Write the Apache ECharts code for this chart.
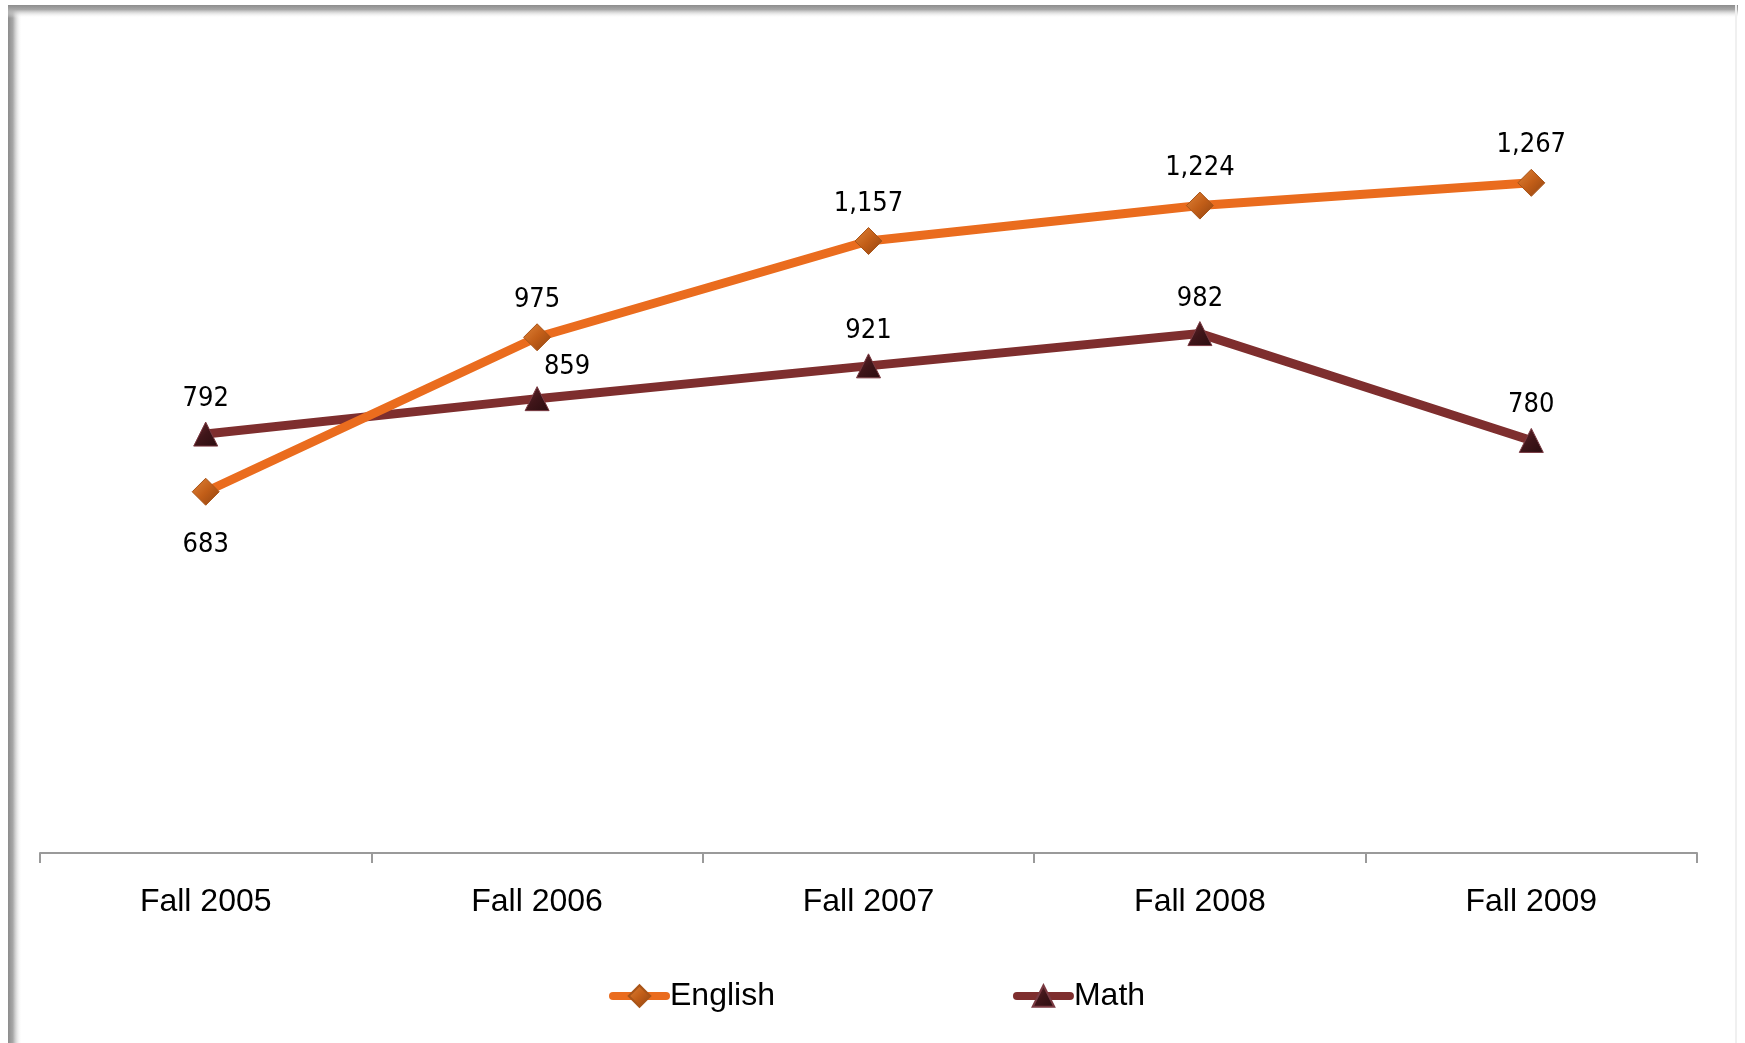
<!DOCTYPE html>
<html>
<head>
<meta charset="utf-8">
<script src="https://cdn.jsdelivr.net/npm/echarts@6/dist/echarts.min.js"></script>
<style>
html,body{margin:0;padding:0;background:#fff;}
#chart{width:1745px;height:1043px;}
</style>
</head>
<body>
<div id="chart"></div>
<script>
const categories = ['Fall 2005', 'Fall 2006', 'Fall 2007', 'Fall 2008', 'Fall 2009'];
const englishValues = [683, 975, 1157, 1224, 1267];
const mathValues = [792, 859, 921, 982, 780];

const chart = echarts.init(document.getElementById('chart'));
const labelFont = "'Liberation Sans Narrow', 'DejaVu Sans Condensed', sans-serif";
const axisFont = "'Liberation Sans', Arial, sans-serif";

const englishData = englishValues.map((v, i) => ({
  value: v,
  label: i === 0 ? { position: 'bottom', distance: 26 } : undefined
}));
const mathData = mathValues.map((v, i) => ({
  value: v,
  label: i === 1 ? { offset: [30, 3] } : undefined
}));

chart.setOption({
  animation: false,
  backgroundColor: '#fff',
  graphic: [
    { type: 'rect', left: 8, top: 5, shape: { width: 14, height: 1040 }, silent: true,
      style: { fill: new echarts.graphic.LinearGradient(0, 0, 1, 0, [
        { offset: 0, color: '#8c8c8c' }, { offset: 0.35, color: '#a8a8a8' }, { offset: 1, color: 'rgba(255,255,255,0)' }]) } },
    { type: 'rect', left: 8, top: 5, shape: { width: 1730, height: 13 }, silent: true,
      style: { fill: new echarts.graphic.LinearGradient(0, 0, 0, 1, [
        { offset: 0, color: '#8c8c8c' }, { offset: 0.35, color: '#a8a8a8' }, { offset: 1, color: 'rgba(255,255,255,0)' }]) } },
    { type: 'rect', left: 1735, top: 5, shape: { width: 2, height: 1040 }, silent: true,
      style: { fill: '#f0f0f0' } }
  ],
  grid: { left: 40, right: 48, top: 112.5, bottom: 190, containLabel: false },
  legend: {
    left: 604, top: 975,
    itemWidth: 53, itemHeight: 27, itemGap: 238,
    lineStyle: { width: 8, cap: 'round' },
    textStyle: { fontFamily: axisFont, fontSize: 32, color: '#000', padding: [0, 0, 0, -1] },
    data: ['English', 'Math']
  },
  xAxis: {
    type: 'category',
    data: categories,
    boundaryGap: true,
    axisLine: { lineStyle: { color: '#9a9a9a', width: 2 } },
    axisTick: { show: true, length: 10, inside: false, lineStyle: { color: '#9a9a9a', width: 2 } },
    axisLabel: { fontFamily: axisFont, fontSize: 32, color: '#000', margin: 33 }
  },
  yAxis: {
    type: 'value', min: 0, max: 1400, interval: 200,
    show: false, splitLine: { show: false }
  },
  series: [
    {
      name: 'English', type: 'line', data: englishData,
      symbol: 'diamond', symbolSize: 27,
      lineStyle: { color: '#EA6C1E', width: 9 },
      itemStyle: { color: new echarts.graphic.LinearGradient(0, 0, 1, 1, [
        { offset: 0, color: '#E0843A' }, { offset: 0.5, color: '#C25E18' }, { offset: 1, color: '#8F4311' }]),
        borderColor: '#A85418', borderWidth: 1 },
      label: { show: true, position: 'top', distance: 10, fontFamily: labelFont, fontSize: 27, color: '#000',
        formatter: p => p.value.toLocaleString('en-US') },
      z: 3
    },
    {
      name: 'Math', type: 'line', data: mathData,
      symbol: 'triangle', symbolSize: 24,
      lineStyle: { color: '#7E2E2E', width: 9 },
      itemStyle: { color: new echarts.graphic.LinearGradient(0, 0, 1, 1, [
        { offset: 0, color: '#6a2a30' }, { offset: 0.5, color: '#3F1519' }, { offset: 1, color: '#2a0d10' }]),
        borderColor: '#7a3a42', borderWidth: 1 },
      label: { show: true, position: 'top', distance: 9, fontFamily: labelFont, fontSize: 27, color: '#000',
        formatter: p => p.value.toLocaleString('en-US') },
      z: 2
    }
  ]
});
</script>
</body>
</html>
